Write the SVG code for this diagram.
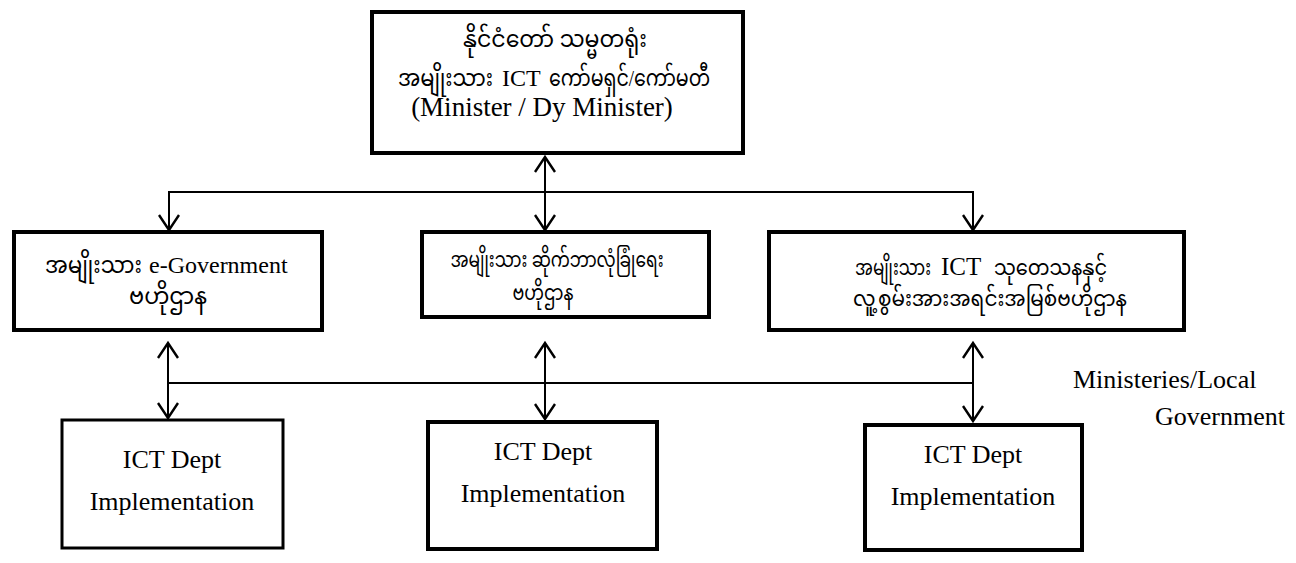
<svg xmlns="http://www.w3.org/2000/svg" width="1296" height="563" viewBox="0 0 1296 563">
<style>
.box{fill:#fff;stroke:#000;stroke-width:4}
.thin{stroke-width:3}
.t{font-family:"Liberation Serif","Noto Sans Myanmar","Padauk","Myanmar Text","Noto Serif Myanmar",serif;fill:#000}
.en{font-size:26px}
.m1{font-size:23px}
.m2{font-size:22px}
.c{text-anchor:middle}
.conn{fill:none;stroke:#000;stroke-width:2}
</style>
<defs>
<marker id="ah" viewBox="-2 -2 20 24" markerUnits="userSpaceOnUse" markerWidth="20" markerHeight="24" refX="15" refY="10" orient="auto-start-reverse" overflow="visible">
<path d="M0,0 L15,10 L0,20" fill="none" stroke="#000" stroke-width="2.4"/>
</marker>
</defs>
<rect width="1296" height="563" fill="#fff"/>
<g id="connectors">
<line class="conn" x1="545" y1="157" x2="545" y2="230" marker-start="url(#ah)" marker-end="url(#ah)"/>
<polyline class="conn" points="169,230 169,192 973,192 973,230" marker-start="url(#ah)" marker-end="url(#ah)"/>
<line class="conn" x1="168" y1="343" x2="168" y2="418" marker-start="url(#ah)" marker-end="url(#ah)"/>
<line class="conn" x1="545" y1="343" x2="545" y2="419" marker-start="url(#ah)" marker-end="url(#ah)"/>
<line class="conn" x1="973" y1="343" x2="973" y2="421" marker-start="url(#ah)" marker-end="url(#ah)"/>
<line class="conn" x1="168" y1="383" x2="973" y2="383"/>
</g>
<g id="n-top">
<rect class="box" x="372" y="12" width="371" height="141"/>
<text class="t m1 c" x="555" y="47" textLength="184" lengthAdjust="spacingAndGlyphs">နိုင်ငံတော် သမ္မတရုံး</text>
<text class="t m1" x="398" y="86" textLength="95" lengthAdjust="spacingAndGlyphs">အမျိုးသား</text>
<text class="t" x="502" y="86" style="font-size:24px">ICT</text>
<text class="t m1" x="549" y="86" textLength="161" lengthAdjust="spacingAndGlyphs">ကော်မရှင်/ကော်မတီ</text>
<text class="t en c" x="542" y="116" style="font-size:27px">(Minister / Dy Minister)</text>
</g>
<g id="n-egov">
<rect class="box" x="14" y="232" width="308" height="98"/>
<text class="t m1" x="45" y="273" textLength="97" lengthAdjust="spacingAndGlyphs">အမျိုးသား</text>
<text class="t" x="149" y="273" style="font-size:24px">e-Government</text>
<text class="t m1 c" x="168" y="304" textLength="78" lengthAdjust="spacingAndGlyphs">ဗဟိုဌာန</text>
</g>
<g id="n-cyber">
<rect class="box" x="422" y="232" width="287" height="85"/>
<text class="t m2 c" x="557" y="267" textLength="213" lengthAdjust="spacingAndGlyphs">အမျိုးသား ဆိုက်ဘာလုံခြုံရေး</text>
<text class="t m2 c" x="543" y="300" textLength="61" lengthAdjust="spacingAndGlyphs">ဗဟိုဌာန</text>
</g>
<g id="n-research">
<rect class="box" x="769" y="232" width="415" height="98"/>
<text class="t m2" x="855" y="275" textLength="76" lengthAdjust="spacingAndGlyphs">အမျိုးသား</text>
<text class="t" x="941" y="275" style="font-size:25px">ICT</text>
<text class="t m2" x="994" y="275" textLength="113" lengthAdjust="spacingAndGlyphs">သုတေသနနှင့်</text>
<text class="t m2" x="853" y="306" textLength="274" lengthAdjust="spacingAndGlyphs">လူ့စွမ်းအားအရင်းအမြစ်ဗဟိုဌာန</text>
</g>
<g id="n-impl1">
<rect class="box thin" x="62" y="420" width="221" height="128"/>
<text class="t en c" x="172" y="468">ICT Dept</text>
<text class="t en c" x="172" y="510">Implementation</text>
</g>
<g id="n-impl2">
<rect class="box" x="428" y="422" width="229" height="127"/>
<text class="t en c" x="543" y="460">ICT Dept</text>
<text class="t en c" x="543" y="502">Implementation</text>
</g>
<g id="n-impl3">
<rect class="box" x="865" y="425" width="217" height="125"/>
<text class="t en c" x="973" y="463">ICT Dept</text>
<text class="t en c" x="973" y="505">Implementation</text>
</g>
<g id="n-label">
<text class="t en" x="1073" y="388">Ministeries/Local</text>
<text class="t en" x="1155" y="425">Government</text>
</g>
</svg>
